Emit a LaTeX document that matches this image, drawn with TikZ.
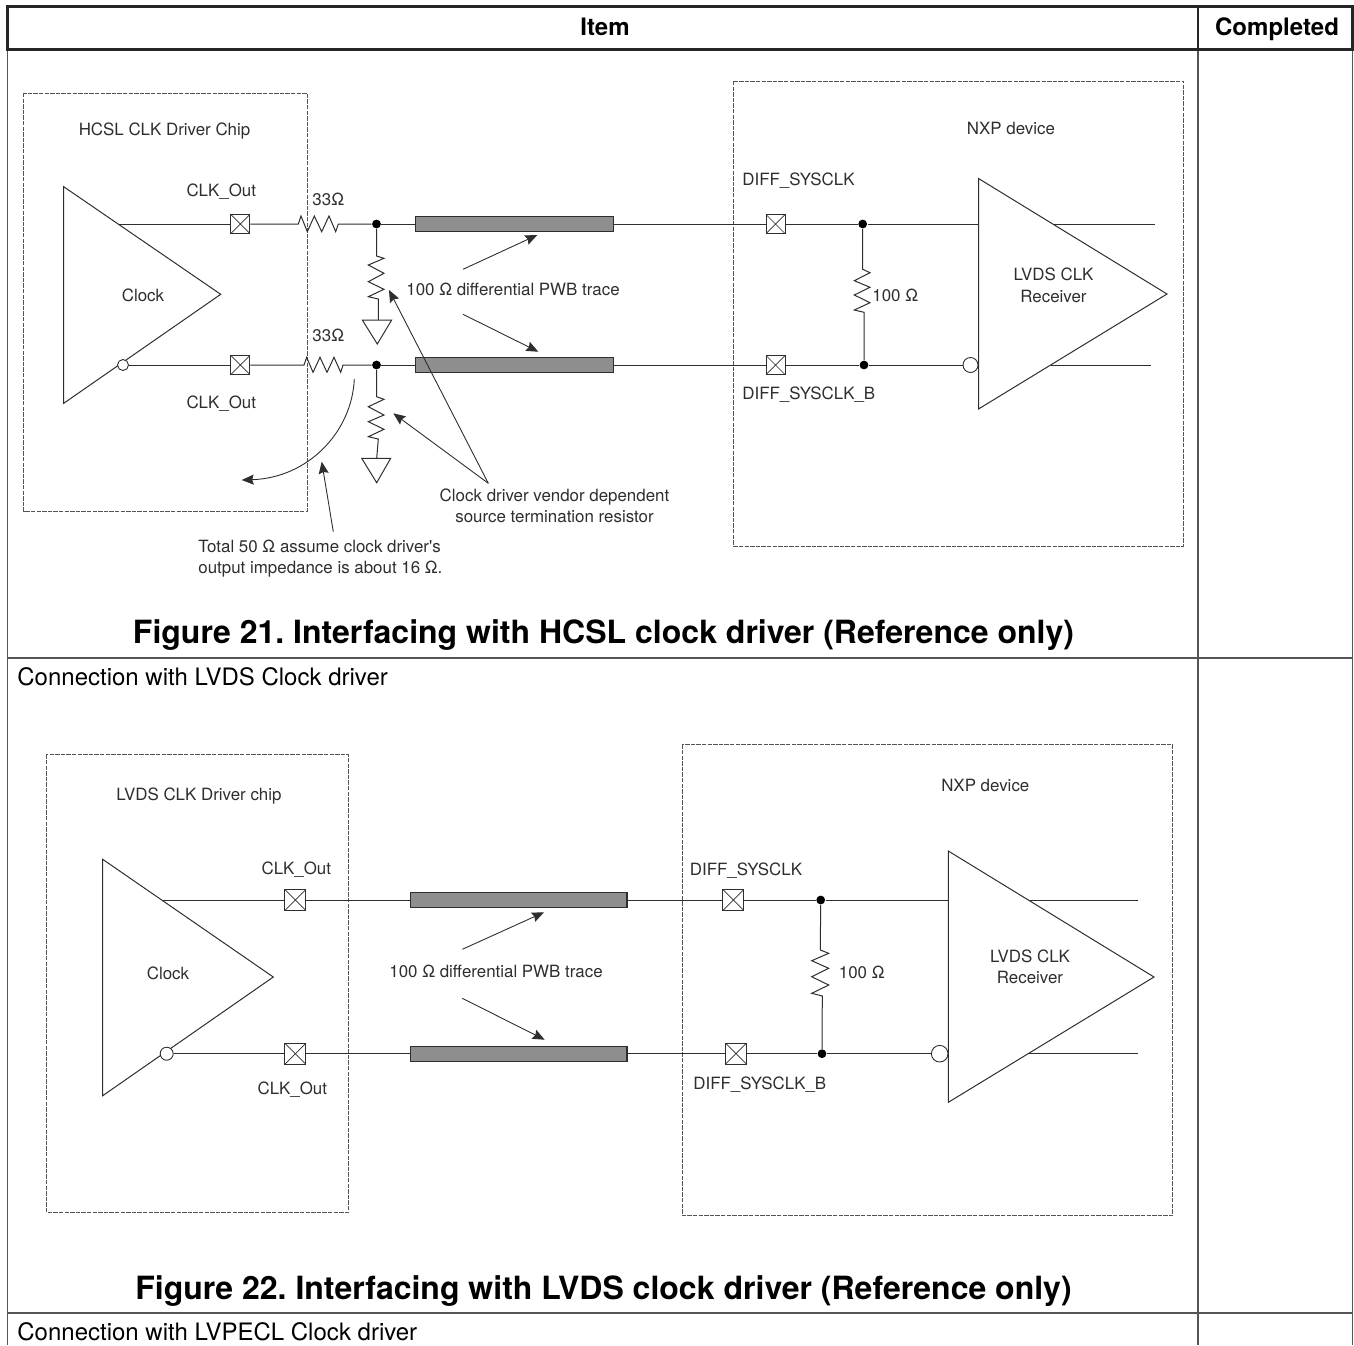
\documentclass[tikz,border=0pt]{standalone}
\usepackage{fontspec}
\setmainfont{TeX Gyre Heros}
\newfontface\plainface{TeX Gyre Heros}
\usetikzlibrary{arrows.meta}
\definecolor{ink}{HTML}{2E2E2E}
\definecolor{rule}{HTML}{555555}
\definecolor{tracefill}{HTML}{8E8E8E}
\tikzset{
  wire/.style={draw=ink,line width=0.5pt,line join=miter},
  ptr/.style={draw=ink,line width=0.45pt,-{Stealth[length=6pt,width=5pt,inset=0.8pt]}},
  chipbox/.style={draw=rule,line width=0.5pt,dash pattern=on 2.2pt off 0.6pt},
  padbox/.style={draw=ink,line width=0.45pt,fill=white,rectangle,inner sep=0pt,minimum size=#1,
    path picture={\draw[ink,line width=0.35pt] (path picture bounding box.north west)--(path picture bounding box.south east)
      (path picture bounding box.north east)--(path picture bounding box.south west);}},
  jdot/.style={circle,fill=black,inner sep=0pt,minimum size=4.4pt},
  bubble/.style={circle,draw=ink,line width=0.45pt,fill=white,inner sep=0pt,minimum size=#1},
  tracebar/.style={rectangle,draw=ink,line width=0.55pt,fill=tracefill,inner sep=0pt,minimum height=7.5pt,minimum width=#1},
  lbl/.style={text=ink,font=\fontsize{8.45pt}{10pt}\selectfont,inner sep=0pt,text height=6pt,text depth=0pt},
  lbll/.style={lbl,anchor=west},
  caption/.style={font=\fontsize{16pt}{19pt}\selectfont\bfseries\frenchspacing,inner sep=0pt,text=black,text height=11.5pt,text depth=0pt},
  cell/.style={font=\fontsize{12pt}{14pt}\selectfont,inner sep=0pt,text=black,text height=8.6pt,text depth=0pt},
  cellhead/.style={font=\fontsize{12pt}{14pt}\selectfont\bfseries,inner sep=0pt,text=black,text height=8.6pt,text depth=0pt},
  tbl/.style={draw=rule,line width=0.85pt},
  tblh/.style={draw=black!85,line width=1.25pt},
}
\begin{document}
\begin{tikzpicture}[x=0.5pt,y=-0.5pt]
\useasboundingbox (0,0) rectangle (1354,1345);
% table
\draw[tbl] (7.5,6.5) -- (7.5,1345) (1352.5,6.5) -- (1352.5,1345) (1198,6.5) -- (1198,1345);
\draw[tbl] (7.5,657.7) -- (1352.5,657.7) (7.5,1312.7) -- (1352.5,1312.7);
\draw[tblh] (7.5,6.5) rectangle (1352.5,49.5) (1198,6.5) -- (1198,49.5);
\node[cellhead] (hitem) at (605,27) {Item};
\node[cellhead] (hcomp) at (1277,27) {Completed};
\node[caption] (cap1) at (603.5,632) {Figure 21. Interfacing with HCSL clock driver (Reference only)};
\node[caption] (cap2) at (603.5,1288) {Figure 22. Interfacing with LVDS clock driver (Reference only)};
\node[cell,anchor=west] (row2) at (17,677) {Connection with LVDS Clock driver};
\node[cell,anchor=west] (row3) at (17,1332) {Connection with LVPECL Clock driver};

% ---------- Figure 21 ----------
\draw[chipbox] (23.5,93) rectangle (307,511);
\draw[chipbox] (733.5,81) rectangle (1183.5,546);
\draw[wire] (63.7,186.7) -- (220.7,294.3) -- (63.7,403.3) -- cycle;
\draw[wire] (978.5,178.5) -- (1167,294) -- (978.5,409) -- cycle;
\coordinate (a1) at (118,224);
\node[bubble=5.5pt] (a2) at (123,365) {};
\node[padbox=9.5pt] (pa1) at (240.3,224) {};
\node[padbox=9.5pt] (pa2) at (240.3,365) {};
\coordinate (ra1i) at (298.3,224);
\coordinate (ra1o) at (338.3,224);
\coordinate (ra2i) at (304,365);
\coordinate (ra2o) at (343,365);
\node[jdot] (da1) at (376.5,224) {};
\node[jdot] (da2) at (376.5,365) {};
\node[tracebar=99pt] (ta1) at (514.5,224) {};
\node[tracebar=99pt] (ta2) at (514.5,365) {};
\node[padbox=9.5pt] (pb1) at (775.5,224) {};
\node[padbox=9.5pt] (pb2) at (775.5,365) {};
\node[jdot] (db1) at (862.7,224) {};
\node[jdot] (db2) at (864,365) {};
\coordinate (ri1) at (978.5,224);
\node[bubble=7.5pt] (bi2) at (970.5,365) {};
\coordinate (ro1s) at (1053,224);
\coordinate (ro1e) at (1154.5,224);
\coordinate (ro2s) at (1051,365);
\coordinate (ro2e) at (1151,365);
\draw[wire] (a1) -- (pa1);
\draw[wire] (a2) -- (pa2);
\draw[wire] (pa1) -- (ra1i) -- (301,216) -- (307.3,231.7) -- (314.3,216) -- (321.7,231.7) -- (329,216) -- (335.7,231.7) -- (ra1o) -- (da1);
\draw[wire] (pa2) -- (ra2i) -- (306.7,357.3) -- (313,372.3) -- (320,357.3) -- (327,372.3) -- (334,357.3) -- (340.7,372.3) -- (ra2o) -- (da2);
\draw[wire] (da1) -- (ta1);
\draw[wire] (da2) -- (ta2);
\draw[wire] (ta1) -- (pb1);
\draw[wire] (ta2) -- (pb2);
\draw[wire] (pb1) -- (db1);
\draw[wire] (pb2) -- (db2);
\draw[wire] (db1) -- (ri1);
\draw[wire] (db2) -- (bi2);
\draw[wire] (ro1s) -- (ro1e);
\draw[wire] (ro2s) -- (ro2e);
% shunt resistors
\coordinate (ga1) at (378.3,320);
\coordinate (ga2) at (376.7,458.3);
\draw[wire] (da1) -- (376.5,256) -- (384,258.3) -- (368.3,265) -- (384,273.3) -- (368.3,281.7) -- (384,289.3) -- (368.3,296.7) -- (378.3,299) -- (ga1);
\draw[wire] (da2) -- (376.5,396.7) -- (384,399.3) -- (368.3,406.7) -- (384,415) -- (368.3,421.7) -- (384,429.3) -- (368.3,436.7) -- (378.3,439) -- (ga2);
\draw[wire] (362.3,320) -- (391.7,320) -- (377.3,344) -- cycle;
\draw[wire] (361.7,458.3) -- (390.7,458.3) -- (376.7,482.7) -- cycle;
\draw[wire] (db1) -- (862.7,269.3) -- (870,272.7) -- (854.3,280.7) -- (870,287.3) -- (854.3,295) -- (870,302.7) -- (854.3,310) -- (864,312.3) -- (db2);
% pointers
\coordinate (tp1) at (463,269.3);
\coordinate (tq1) at (537.3,235);
\coordinate (tp2) at (463,314.3);
\coordinate (tq2) at (538.3,351.7);
\coordinate (vp) at (488.3,483.3);
\coordinate (vq1) at (389,290);
\coordinate (vq2) at (393.3,413.3);
\coordinate (cvs) at (354.3,379);
\coordinate (cve) at (241.7,480);
\coordinate (tot1) at (333.3,531.7);
\coordinate (tot2) at (321.7,461.7);
\draw[ptr] (tp1) -- (tq1);
\draw[ptr] (tp2) -- (tq2);
\draw[ptr] (vp) -- (vq1);
\draw[ptr] (vp) -- (vq2);
\draw[ptr] (tot1) -- (tot2);
\draw[ptr] (cvs) .. controls (352,432) and (308,478) .. (cve);
% labels
\node[lbl] (l1) at (164.5,129) {HCSL CLK Driver Chip};
\node[lbl] (l2) at (143,295) {Clock};
\node[lbl] (l3) at (221.3,190.5) {CLK\_Out};
\node[lbl] (l4) at (221.3,402.5) {CLK\_Out};
\node[lbl] (l5) at (328.3,199.5) {33Ω};
\node[lbl] (l6) at (328.3,335) {33Ω};
\node[lbll] (l7) at (406,289.5) {100 Ω differential PWB trace};
\node[lbl] (l8) at (554.5,495.5) {Clock driver vendor dependent};
\node[lbl] (l9) at (554.5,516) {source termination resistor};
\node[lbll] (l10) at (198,546.5) {Total 50 Ω assume clock driver{\plainface '}s};
\node[lbll] (l11) at (198,567.5) {output impedance is about 16 Ω.};
\node[lbl] (l12) at (1011,128) {NXP device};
\node[lbll] (l13) at (742,179) {DIFF\_SYSCLK};
\node[lbll] (l14) at (742,393) {DIFF\_SYSCLK\_B};
\node[lbll] (l15) at (872,295) {100 Ω};
\node[lbl] (l16) at (1053.5,274) {LVDS CLK};
\node[lbl] (l17) at (1053.5,296) {Receiver};

% ---------- Figure 22 ----------
\draw[chipbox] (46.7,754.3) rectangle (348.3,1212.3);
\draw[chipbox] (682.7,744.3) rectangle (1172.3,1215.7);
\draw[wire] (102.7,859.3) -- (273.3,977) -- (102.7,1095.7) -- cycle;
\draw[wire] (948.3,851) -- (1154,977) -- (948.3,1102.3) -- cycle;
\coordinate (c1) at (163.3,900);
\node[bubble=6.5pt] (c2) at (166.7,1053.7) {};
\node[padbox=10.5pt] (pc1) at (295.3,900) {};
\node[padbox=10.5pt] (pc2) at (295.3,1053.7) {};
\node[tracebar=108.3pt] (tc1) at (518.7,900) {};
\node[tracebar=108.3pt] (tc2) at (518.7,1053.7) {};
\node[padbox=10.5pt] (pd1) at (733.3,900) {};
\node[padbox=10.5pt] (pd2) at (736,1053.7) {};
\node[jdot] (dd1) at (820.7,900) {};
\node[jdot] (dd2) at (822,1053.7) {};
\coordinate (si1) at (948.3,900);
\node[bubble=8.3pt] (bj2) at (939.7,1053.7) {};
\coordinate (so1s) at (1030,900);
\coordinate (so1e) at (1137.7,900);
\coordinate (so2s) at (1029,1053.7);
\coordinate (so2e) at (1137.7,1053.7);
\draw[wire] (c1) -- (pc1);
\draw[wire] (c2) -- (pc2);
\draw[wire] (pc1) -- (tc1);
\draw[wire] (pc2) -- (tc2);
\draw[wire] (tc1) -- (pd1);
\draw[wire] (tc2) -- (pd2);
\draw[wire] (pd1) -- (dd1);
\draw[wire] (pd2) -- (dd2);
\draw[wire] (dd1) -- (si1);
\draw[wire] (dd2) -- (bj2);
\draw[wire] (so1s) -- (so1e);
\draw[wire] (so2s) -- (so2e);
\draw[wire] (dd1) -- (820.3,950) -- (828.7,953.3) -- (811.7,960.7) -- (828.7,968.3) -- (811.7,976.7) -- (828.7,985) -- (811.7,993.3) -- (822.3,996) -- (dd2);
\coordinate (up1) at (462.3,949.3);
\coordinate (uq1) at (544,912.3);
\coordinate (up2) at (462.3,998.3);
\coordinate (uq2) at (544.7,1039.7);
\draw[ptr] (up1) -- (uq1);
\draw[ptr] (up2) -- (uq2);
\node[lbl] (m1) at (199,794.5) {LVDS CLK Driver chip};
\node[lbl] (m2) at (168,973.5) {Clock};
\node[lbl] (m3) at (296.3,868.5) {CLK\_Out};
\node[lbl] (m4) at (292.3,1088) {CLK\_Out};
\node[lbll] (m5) at (389,971.5) {100 Ω differential PWB trace};
\node[lbl] (m6) at (985.3,785.5) {NXP device};
\node[lbll] (m7) at (689.5,869) {DIFF\_SYSCLK};
\node[lbll] (m8) at (693,1083) {DIFF\_SYSCLK\_B};
\node[lbll] (m9) at (838.5,972.5) {100 Ω};
\node[lbl] (m10) at (1030,956.5) {LVDS CLK};
\node[lbl] (m11) at (1030,977.5) {Receiver};
\end{tikzpicture}
\end{document}
